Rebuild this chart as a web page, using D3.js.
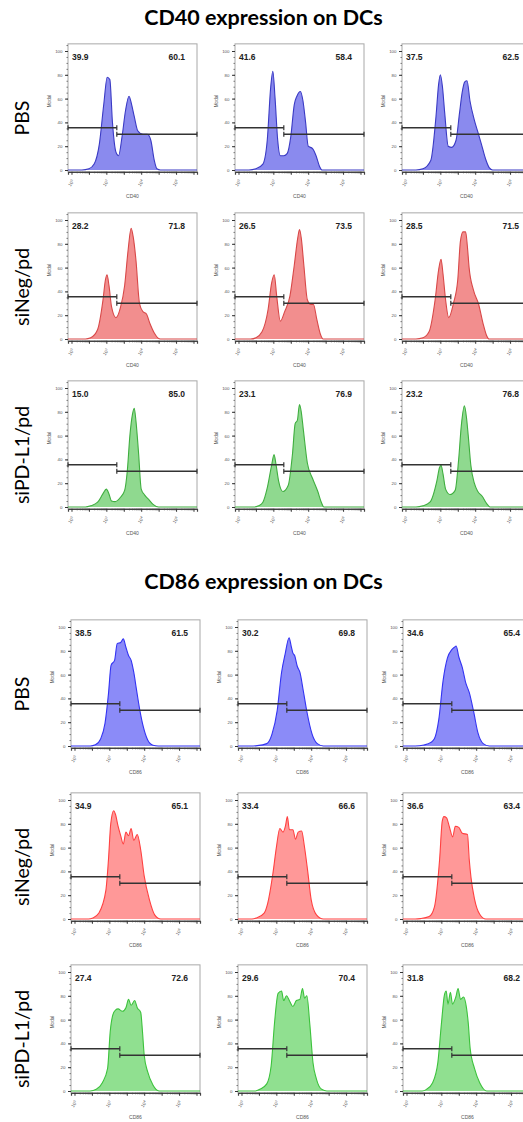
<!DOCTYPE html>
<html>
<head>
<meta charset="utf-8">
<script src="https://cdn.jsdelivr.net/npm/d3@7"></script>
<style>
  body { margin: 0; background: #fff; }
  svg { display: block; }
</style>
</head>
<body>
<script>
const width = 523;
const height = 1122;

// data
const rowNames = ["PBS", "siNeg/pd", "siPD-L1/pd"];
const xTickExps = [0, 2, 4, 6];
const yTicks = [0, 20, 40, 60, 80, 100];
const gateLeftY = 35.5;   // % level of left gate bar
const gateRightY = 30;    // % level of right gate bar
const gateSplit = 2.6;    // log10 position of the gate boundary

// [left %, right %] per panel, row-major
const cd40Pct = [
  [39.9, 60.1], [41.6, 58.4], [37.5, 62.5],
  [28.2, 71.8], [26.5, 73.5], [28.5, 71.5],
  [15.0, 85.0], [23.1, 76.9], [23.2, 76.8]
];
const cd86Pct = [
  [38.5, 61.5], [30.2, 69.8], [34.6, 65.4],
  [34.9, 65.1], [33.4, 66.6], [36.6, 63.4],
  [27.4, 72.6], [29.6, 70.4], [31.8, 68.2]
];

// histograms as [log10 intensity, % of max]
const cd40PBS1 = [[0.6,0],[1.0,1],[1.3,5],[1.6,22],[1.85,55],[2.05,78],[2.2,76],[2.35,40],[2.55,15],[2.7,12],[2.9,28],[3.1,50],[3.3,62],[3.45,55],[3.6,45],[3.8,33],[4.1,30],[4.35,30],[4.55,25],[4.75,8],[4.9,1],[5.1,0]];
const cd40PBS2 = [[0.6,0],[1.0,1],[1.4,5],[1.65,25],[1.85,70],[1.97,83],[2.1,60],[2.25,25],[2.4,12],[2.6,12],[2.8,14],[3.0,28],[3.2,55],[3.35,62],[3.55,66],[3.7,58],[3.85,40],[4.0,20],[4.25,18],[4.45,12],[4.65,3],[4.8,0]];
const cd40PBS3 = [[0.6,0],[1.0,1],[1.45,8],[1.75,45],[1.9,72],[2.0,80],[2.12,70],[2.25,48],[2.45,20],[2.65,19],[2.9,25],[3.1,48],[3.25,65],[3.4,74],[3.53,75],[3.7,58],[3.95,42],[4.15,32],[4.35,22],[4.6,9],[4.8,2],[5.0,0]];
const cd40Neg1 = [[0.8,0],[1.1,1],[1.5,8],[1.8,32],[1.95,50],[2.04,54],[2.15,45],[2.3,27],[2.55,18],[2.8,26],[3.05,45],[3.25,75],[3.42,93],[3.55,85],[3.7,66],[3.9,30],[4.1,23],[4.3,21],[4.5,13],[4.75,5],[4.95,1],[5.1,0]];
const cd40Neg2 = [[0.7,0],[1.0,1],[1.35,6],[1.7,25],[1.9,47],[2.05,54],[2.2,35],[2.4,15],[2.65,23],[2.95,36],[3.2,62],[3.4,85],[3.5,92],[3.6,85],[3.75,62],[3.95,33],[4.15,29],[4.3,29],[4.5,16],[4.7,4],[4.85,0]];
const cd40Neg3 = [[0.6,0],[1.0,1],[1.35,6],[1.7,33],[1.9,58],[2.04,67],[2.15,55],[2.3,33],[2.48,18],[2.75,30],[3.0,50],[3.15,82],[3.3,90],[3.45,90],[3.55,78],[3.65,60],[3.9,41],[4.2,29],[4.45,13],[4.65,3],[4.8,0]];
const cd40PD1 = [[0.8,0],[1.1,1],[1.5,4],[1.8,11],[2.0,15],[2.15,11],[2.3,5],[2.5,4.5],[2.8,8],[3.05,14],[3.2,30],[3.35,60],[3.5,78],[3.6,83],[3.7,72],[3.85,45],[4.0,15],[4.2,10],[4.45,6],[4.7,2],[5.0,0]];
const cd40PD2 = [[0.9,0],[1.15,1],[1.4,4],[1.65,16],[1.9,35],[2.04,44],[2.15,36],[2.3,22],[2.55,13],[2.85,18],[3.1,45],[3.25,70],[3.38,73],[3.5,86],[3.6,80],[3.72,65],[3.95,37],[4.25,24],[4.55,13],[4.75,4],[4.9,0]];
const cd40PD3 = [[0.6,0],[1.0,1],[1.4,4],[1.8,22],[1.95,33],[2.04,35],[2.15,28],[2.3,15],[2.55,10.5],[2.85,14],[3.05,40],[3.2,68],[3.38,85],[3.5,75],[3.6,60],[3.75,35],[3.95,20],[4.15,13],[4.4,9],[4.65,3],[4.85,0]];

const cd86PBS1 = [[0.9,0],[1.2,1],[1.5,6],[1.75,19],[1.95,44],[2.1,68],[2.3,72],[2.45,86],[2.65,87],[2.8,90],[2.95,83],[3.1,76],[3.25,72],[3.4,62],[3.55,48],[3.75,30],[3.95,16],[4.2,5],[4.5,0.6],[4.8,0]];
const cd86PBS2 = [[0.5,0],[0.9,0.3],[1.45,2],[1.75,10],[2.05,30],[2.3,62],[2.5,77],[2.73,91],[2.85,84],[2.95,78],[3.05,76],[3.2,67],[3.35,62],[3.55,46],[3.75,29],[4.05,10],[4.35,2],[4.7,0]];
const cd86PBS3 = [[0.5,0],[1.0,0.8],[1.4,3],[1.6,6],[1.85,22],[2.1,55],[2.35,74],[2.6,81],[2.75,83],[2.85,84],[3.0,75],[3.2,66],[3.4,53],[3.6,45],[3.85,29],[4.1,11],[4.4,2],[4.75,0]];
const cd86Neg1 = [[0.8,0],[1.05,0.8],[1.4,5],[1.8,24],[1.95,50],[2.08,80],[2.25,91],[2.35,88],[2.5,78],[2.65,70],[2.8,63],[2.95,73],[3.1,70],[3.25,76],[3.4,66],[3.6,71],[3.8,58],[4.0,36],[4.3,16],[4.6,3.5],[4.95,0]];
const cd86Neg2 = [[0.6,0],[0.85,0.8],[1.3,5],[1.5,13],[1.8,38],[2.0,60],[2.2,76],[2.38,73],[2.52,78],[2.63,86],[2.75,75],[2.95,75],[3.1,67],[3.25,73],[3.45,74],[3.6,62],[3.8,40],[4.0,16],[4.3,3.5],[4.7,0]];
const cd86Neg3 = [[0.5,0],[0.8,0.3],[1.3,2],[1.6,10],[1.9,50],[2.05,82],[2.15,86],[2.3,85],[2.45,78],[2.65,69],[2.8,78],[3.0,77],[3.2,72],[3.5,71],[3.6,50],[3.7,35],[3.9,17],[4.2,4],[4.55,0]];
const cd86PD1 = [[0.9,0],[1.25,1.4],[1.6,7],[1.9,19],[2.05,50],[2.2,64],[2.35,68],[2.5,69],[2.75,67],[2.95,70],[3.1,77],[3.25,72],[3.45,76],[3.6,70],[3.8,66],[3.9,50],[4.0,30],[4.2,16],[4.5,5],[4.85,0]];
const cd86PD2 = [[0.8,0],[1.05,1.4],[1.45,6],[1.7,21],[1.9,58],[2.1,82],[2.3,84],[2.42,76],[2.58,80],[2.78,75],[2.95,71],[3.15,76],[3.35,77],[3.5,86],[3.62,78],[3.75,80],[3.92,56],[4.1,24],[4.3,10],[4.6,1.4],[4.9,0]];
const cd86PD3 = [[0.9,0],[1.15,1.4],[1.5,7],[1.8,24],[2.0,56],[2.18,81],[2.28,84],[2.38,73],[2.52,83],[2.64,73],[2.83,79],[2.96,86],[3.1,77],[3.28,79],[3.44,70],[3.55,56],[3.65,36],[3.9,19],[4.2,7],[4.6,0]];

// styles per row
const cd40Fill = ["#8a8aee", "#f28e8e", "#8fd98f"];
const cd40Line = ["#3a3ac4", "#d84848", "#3fae3f"];
const cd86Fill = ["#8b8bf8", "#ff9898", "#90e090"];
const cd86Line = ["#3333f2", "#ff4040", "#3cc23c"];

const sections = [
  {
    title: "CD40 expression on DCs", titleY: 25, marker: "CD40",
    colX: [68, 235, 402], zeroY: [170, 339, 507],
    hists: [cd40PBS1, cd40PBS2, cd40PBS3, cd40Neg1, cd40Neg2, cd40Neg3, cd40PD1, cd40PD2, cd40PD3],
    pct: cd40Pct, fill: cd40Fill, line: cd40Line
  },
  {
    title: "CD86 expression on DCs", titleY: 589, marker: "CD86",
    colX: [71, 238, 403], zeroY: [746, 919, 1091],
    hists: [cd86PBS1, cd86PBS2, cd86PBS3, cd86Neg1, cd86Neg2, cd86Neg3, cd86PD1, cd86PD2, cd86PD3],
    pct: cd86Pct, fill: cd86Fill, line: cd86Line
  }
];

const panelW = 129;
const panelH = 119;   // height of 0..100
const xDomain = [-0.2, 7.2];
const labelFont = "Lato, 'Open Sans', sans-serif";
const tinyFont = "Arial, 'Liberation Sans', sans-serif";

const svg = d3.select("body")
  .append("svg")
  .attr("width", width)
  .attr("height", height)
  .attr("viewBox", [0, 0, width, height]);

sections.forEach(sec => {
  svg.append("text")
    .attr("x", width / 2 + 2)
    .attr("y", sec.titleY)
    .attr("text-anchor", "middle")
    .attr("font-family", labelFont)
    .attr("font-weight", "bold")
    .attr("font-size", 21.5)
    .text(sec.title);

  rowNames.forEach((name, r) => {
    svg.append("text")
      .attr("transform", `translate(29,${sec.zeroY[r] - 52}) rotate(-90)`)
      .attr("text-anchor", "middle")
      .attr("font-family", labelFont)
      .attr("font-size", 19.5)
      .text(name);

    sec.colX.forEach((left, c) => {
      const i = r * 3 + c;
      drawPanel(left, sec.zeroY[r], sec.hists[i], sec.pct[i], sec.fill[r], sec.line[r], sec.marker);
    });
  });
});

function drawPanel(left, zeroY, hist, pct, fill, line, marker) {
  const x = d3.scaleLinear().domain(xDomain).range([left, left + panelW]);
  const y = d3.scaleLinear().domain([0, 100]).range([zeroY, zeroY - panelH]);

  const g = svg.append("g");
  const top = y(106);
  const bottom = y(-1.5);

  // frame
  g.append("rect")
    .attr("x", left)
    .attr("y", top)
    .attr("width", panelW)
    .attr("height", bottom - top)
    .attr("fill", "none")
    .attr("stroke", "#a8a8a8")
    .attr("stroke-width", 1);

  // histogram, running along the baseline across the whole axis
  const pts = [[xDomain[0], 0], ...hist, [xDomain[1], 0]];
  const area = d3.area()
    .x(d => x(d[0]))
    .y0(y(0))
    .y1(d => y(d[1]))
    .curve(d3.curveMonotoneX);
  const lineGen = d3.line()
    .x(d => x(d[0]))
    .y(d => y(d[1]))
    .curve(d3.curveMonotoneX);

  g.append("path")
    .datum(pts)
    .attr("fill", fill)
    .attr("d", area);
  g.append("path")
    .datum(pts)
    .attr("fill", "none")
    .attr("stroke", line)
    .attr("stroke-width", 1.1)
    .attr("d", lineGen);

  // x axis (log decades)
  const minor = [];
  for (let d = 0; d < 8; d++) {
    for (let m = 2; m < 10; m++) {
      const v = d + Math.log10(m);
      if (v < xDomain[1]) minor.push(v);
    }
  }
  const xAxis = g.append("g")
    .attr("transform", `translate(0,${bottom})`);
  xAxis.call(d3.axisBottom(x).tickValues(minor).tickSize(1.5).tickFormat(""))
    .call(a => a.select(".domain").remove())
    .call(a => a.selectAll(".tick line").attr("stroke", "#666"));
  xAxis.append("g")
    .call(d3.axisBottom(x).tickValues(d3.range(0, 8)).tickSize(3).tickFormat(""))
    .call(a => a.select(".domain").attr("stroke", "#444").attr("stroke-width", 1.2))
    .call(a => a.selectAll(".tick line").attr("stroke", "#333"));

  xTickExps.forEach(e => {
    const t = g.append("text")
      .attr("transform", `translate(${x(e) + 1},${zeroY + 14}) rotate(-55)`)
      .attr("text-anchor", "middle")
      .attr("font-family", tinyFont)
      .attr("font-size", 4.6)
      .attr("fill", "#555");
    t.append("tspan").text("10");
    t.append("tspan").attr("dy", -1.8).attr("font-size", 3.4).text(e);
  });

  g.append("text")
    .attr("x", left + panelW / 2)
    .attr("y", zeroY + 28)
    .attr("text-anchor", "middle")
    .attr("font-family", tinyFont)
    .attr("font-size", 5)
    .attr("fill", "#555")
    .text(marker);

  // y axis
  const yAxis = g.append("g")
    .attr("transform", `translate(${left},0)`);
  yAxis.call(d3.axisLeft(y).tickValues(d3.range(0, 106, 5)).tickSize(1.5).tickFormat(""))
    .call(a => a.select(".domain").remove())
    .call(a => a.selectAll(".tick line").attr("stroke", "#777"));
  yAxis.append("g")
    .call(d3.axisLeft(y).tickValues(yTicks).tickSize(3).tickPadding(2.5))
    .call(a => a.select(".domain").remove())
    .call(a => a.selectAll(".tick line").attr("stroke", "#333"))
    .call(a => a.selectAll(".tick text")
      .attr("font-family", tinyFont)
      .attr("font-size", 4.4)
      .attr("fill", "#555"));

  g.append("text")
    .attr("transform", `translate(${left - 17},${y(58)}) rotate(-90)`)
    .attr("text-anchor", "middle")
    .attr("font-family", tinyFont)
    .attr("font-size", 4.6)
    .attr("fill", "#555")
    .text("Modal");

  // gates
  const gates = [
    { x0: xDomain[0], x1: gateSplit, v: gateLeftY },
    { x0: gateSplit, x1: xDomain[1], v: gateRightY }
  ];
  gates.forEach(gt => {
    const gy = y(gt.v);
    g.append("line")
      .attr("x1", x(gt.x0)).attr("x2", x(gt.x1))
      .attr("y1", gy).attr("y2", gy)
      .attr("stroke", "#333")
      .attr("stroke-width", 1.4);
    [gt.x0, gt.x1].forEach(v => {
      g.append("line")
        .attr("x1", x(v)).attr("x2", x(v))
        .attr("y1", gy - 2.5).attr("y2", gy + 2.5)
        .attr("stroke", "#333")
        .attr("stroke-width", 1.2);
    });
  });

  // percentages
  g.append("text")
    .attr("x", left + 4)
    .attr("y", y(100) + 8.5)
    .attr("font-family", tinyFont)
    .attr("font-weight", "bold")
    .attr("font-size", 8.5)
    .attr("fill", "#222")
    .text(pct[0].toFixed(1));
  g.append("text")
    .attr("x", left + panelW - 12)
    .attr("y", y(100) + 8.5)
    .attr("text-anchor", "end")
    .attr("font-family", tinyFont)
    .attr("font-weight", "bold")
    .attr("font-size", 8.5)
    .attr("fill", "#222")
    .text(pct[1].toFixed(1));
}
</script>
</body>
</html>
